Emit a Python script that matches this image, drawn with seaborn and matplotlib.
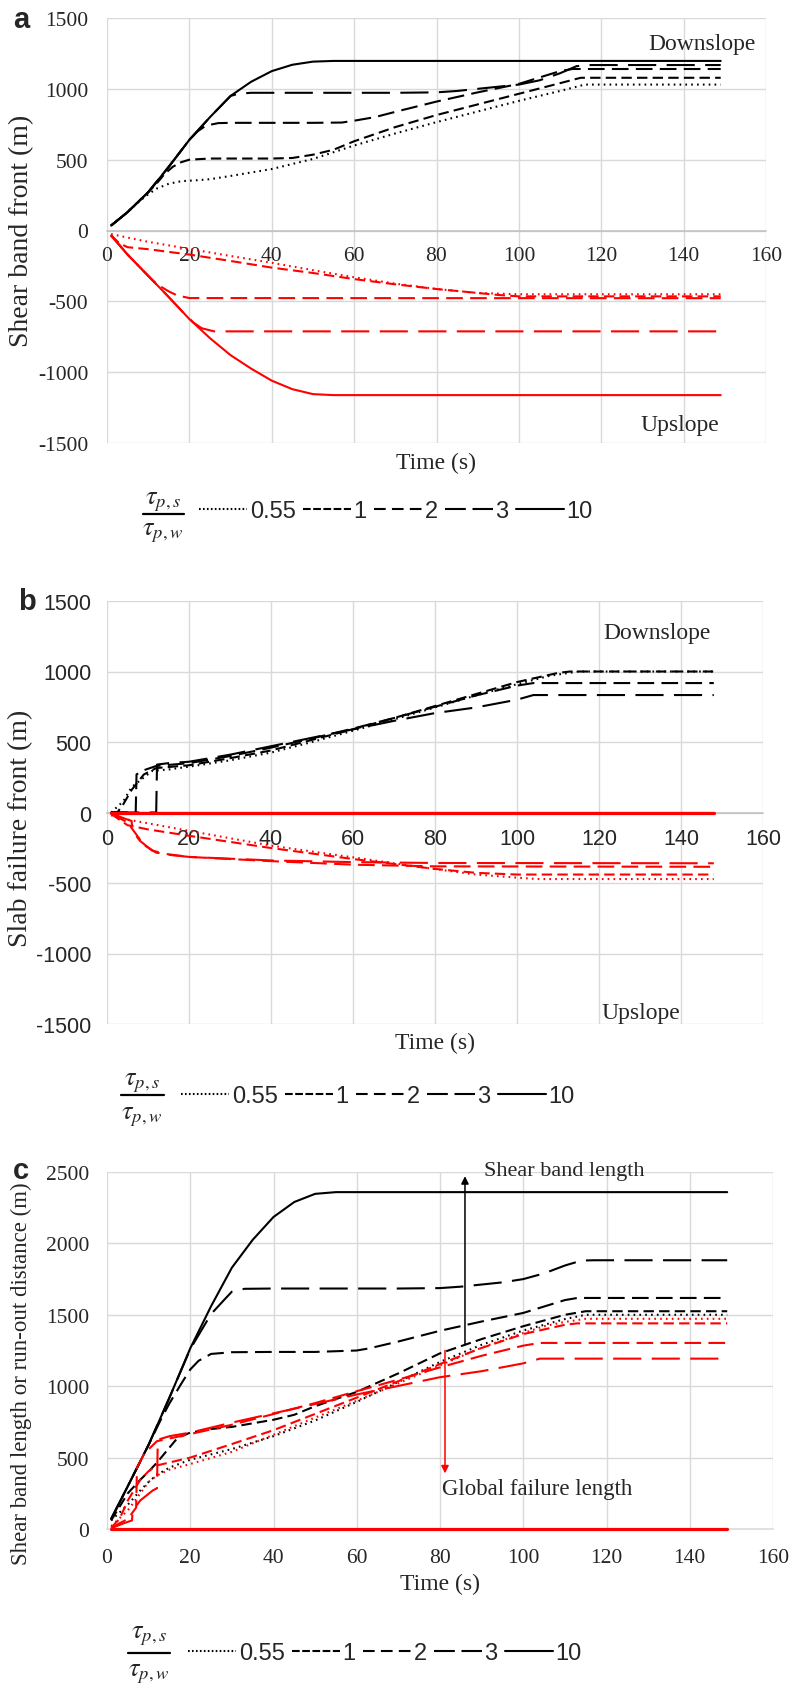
import matplotlib
matplotlib.use("Agg")
import matplotlib.pyplot as plt
import seaborn as sns
import pandas as pd
from matplotlib.lines import Line2D

# ---------------- data ----------------
RATIOS = ["0.55", "1", "2", "3", "10"]
X_TICKS = [0, 20, 40, 60, 80, 100, 120, 140, 160]
A_Y_TICKS = [-1500, -1000, -500, 0, 500, 1000, 1500]
C_Y_TICKS = [0, 500, 1000, 1500, 2000, 2500]

# Panel a: shear band front, downslope (black)
A_T_DOWN_055 = [1, 3, 5, 8, 10, 12, 15, 18, 22, 25, 30, 40, 50, 60, 70, 80, 90, 100, 110, 116, 149]
A_V_DOWN_055 = [35, 80, 130, 210, 255, 295, 330, 348, 355, 362, 385, 434, 505, 600, 685, 765, 840, 915, 985, 1030, 1030]
A_T_DOWN_1 = [1, 5, 10, 12, 14, 16, 18, 20, 25, 30, 40, 45, 50, 55, 60, 70, 80, 90, 100, 110, 115, 149]
A_V_DOWN_1 = [35, 130, 270, 330, 400, 450, 482, 500, 508, 508, 508, 512, 535, 570, 630, 730, 815, 890, 965, 1040, 1078, 1078]
A_T_DOWN_2 = [1, 5, 10, 15, 20, 22, 24, 27, 30, 40, 50, 57, 60, 65, 71, 80, 90, 100, 105, 110, 113, 149]
A_V_DOWN_2 = [35, 130, 270, 450, 640, 700, 740, 758, 760, 760, 760, 762, 775, 800, 845, 910, 975, 1035, 1080, 1125, 1140, 1140]
A_T_DOWN_3 = [1, 5, 10, 15, 20, 25, 30, 32, 35, 50, 60, 70, 80, 85, 90, 95, 100, 105, 110, 114, 117, 149]
A_V_DOWN_3 = [35, 130, 270, 450, 640, 800, 950, 966, 972, 972, 972, 972, 975, 985, 1000, 1015, 1030, 1060, 1110, 1160, 1168, 1168]
A_T_DOWN_10 = [1, 5, 10, 15, 20, 25, 30, 35, 40, 45, 50, 55, 149]
A_V_DOWN_10 = [35, 130, 270, 450, 640, 800, 950, 1050, 1125, 1170, 1192, 1197, 1197]
# Panel a: upslope (red)
A_T_UP_055 = [1, 5, 10, 20, 30, 40, 50, 60, 70, 80, 90, 100, 149]
A_V_UP_055 = [-25, -50, -80, -130, -180, -228, -280, -330, -375, -413, -441, -450, -450]
A_T_UP_1 = [1, 3, 5, 10, 20, 30, 40, 50, 60, 70, 80, 90, 95, 100, 149]
A_V_UP_1 = [-35, -90, -118, -132, -170, -215, -262, -300, -343, -380, -413, -441, -455, -465, -465]
A_T_UP_2 = [1, 5, 10, 11, 13, 15, 17, 20, 149]
A_V_UP_2 = [-35, -170, -320, -350, -395, -430, -458, -477, -478]
A_T_UP_3 = [1, 5, 10, 15, 19, 21, 23, 26, 149]
A_V_UP_3 = [-35, -170, -320, -470, -595, -650, -690, -712, -712]
A_T_UP_10 = [1, 5, 10, 15, 20, 25, 30, 35, 40, 45, 50, 55, 149]
A_V_UP_10 = [-35, -170, -320, -470, -625, -760, -880, -975, -1060, -1120, -1155, -1162, -1162]

# Panel b: slab failure front, downslope (black)
B_T_DOWN_055 = [1, 4, 6, 9.5, 11, 15, 20, 30, 40, 50, 60, 70, 80, 90, 100, 108, 115, 148]
B_V_DOWN_055 = [0, 80, 180, 260, 295, 305, 325, 370, 425, 500, 580, 660, 745, 830, 910, 970, 1000, 1000]
B_T_DOWN_1 = [1, 2.5, 4, 6, 9, 12, 20, 30, 40, 50, 60, 70, 80, 90, 100, 110, 113, 148]
B_V_DOWN_1 = [0, 0, 60, 160, 270, 315, 335, 385, 440, 515, 590, 670, 755, 840, 925, 990, 1000, 1000]
B_T_DOWN_2 = [1, 7, 7.2, 9, 12, 20, 30, 40, 50, 60, 70, 80, 90, 100, 104, 148]
B_V_DOWN_2 = [0, 0, 270, 300, 330, 350, 400, 460, 525, 595, 670, 750, 830, 900, 918, 918]
B_T_DOWN_3 = [1, 12, 12.2, 15, 20, 30, 40, 50, 60, 70, 80, 90, 100, 104, 148]
B_V_DOWN_3 = [0, 0, 340, 350, 360, 410, 470, 530, 590, 650, 705, 745, 800, 833, 833]
B_T_DOWN_10 = [1, 148]
B_V_DOWN_10 = [0, 0]
# Panel b: upslope (red)
B_T_UP_055 = [1, 5, 20, 40, 60, 70, 80, 90, 100, 105, 148]
B_V_UP_055 = [-20, -50, -130, -235, -318, -360, -401, -440, -462, -472, -472]
B_T_UP_1 = [1, 3, 5, 10, 20, 40, 60, 80, 90, 100, 148]
B_V_UP_1 = [-10, -50, -90, -120, -165, -252, -330, -400, -428, -440, -440]
B_T_UP_2 = [1, 3, 5, 7, 9, 12, 20, 40, 60, 80, 148]
B_V_UP_2 = [-5, -40, -70, -150, -230, -285, -315, -345, -370, -382, -385]
B_T_UP_3 = [1, 4, 6, 6.2, 8, 11, 15, 20, 40, 60, 80, 148]
B_V_UP_3 = [-5, -40, -60, -130, -200, -270, -300, -315, -340, -352, -358, -360]
B_T_UP_10 = [1, 148]
B_V_UP_10 = [0, 0]

# Panel c: shear band length (black)
C_T_BAND_055 = [1, 5, 8, 10, 12, 15, 20, 30, 40, 50, 60, 70, 80, 90, 100, 110, 115, 149]
C_V_BAND_055 = [60, 170, 270, 330, 380, 430, 485, 560, 650, 760, 890, 1030, 1170, 1290, 1390, 1470, 1500, 1500]
C_T_BAND_1 = [1, 5, 8, 10, 12, 15, 17, 20, 25, 30, 35, 40, 45, 50, 60, 70, 80, 90, 100, 110, 115, 149]
C_V_BAND_1 = [60, 250, 345, 402, 465, 570, 640, 675, 700, 715, 740, 765, 800, 860, 960, 1090, 1230, 1330, 1420, 1500, 1525, 1525]
C_T_BAND_2 = [1, 5, 10, 13, 15, 18, 20, 22, 25, 30, 40, 50, 60, 63, 70, 80, 90, 100, 105, 110, 113, 149]
C_V_BAND_2 = [70, 300, 590, 770, 880, 1025, 1117, 1178, 1226, 1238, 1240, 1240, 1250, 1265, 1313, 1388, 1453, 1513, 1558, 1603, 1618, 1618]
C_T_BAND_3 = [1, 5, 10, 15, 20, 25, 28, 30, 33, 40, 50, 60, 70, 80, 85, 90, 95, 100, 105, 110, 114, 117, 149]
C_V_BAND_3 = [70, 300, 590, 920, 1260, 1505, 1600, 1662, 1682, 1684, 1684, 1684, 1684, 1687, 1697, 1712, 1727, 1750, 1790, 1845, 1880, 1882, 1882]
C_T_BAND_10 = [1, 5, 10, 15, 20, 25, 30, 35, 40, 45, 50, 55, 149]
C_V_BAND_10 = [70, 300, 590, 920, 1265, 1560, 1830, 2025, 2185, 2290, 2347, 2359, 2359]
# Panel c: global failure length (red)
C_T_GLOB_055 = [1, 5, 8, 10, 12, 15, 20, 30, 40, 50, 60, 70, 80, 90, 100, 105, 110, 115, 149]
C_V_GLOB_055 = [20, 130, 250, 330, 375, 415, 455, 540, 660, 780, 898, 1020, 1146, 1270, 1372, 1420, 1450, 1472, 1472]
C_T_GLOB_1 = [1, 3, 5, 8, 10, 12, 20, 30, 40, 50, 60, 70, 80, 90, 100, 110, 113, 149]
C_V_GLOB_1 = [10, 70, 200, 345, 405, 445, 500, 595, 692, 806, 920, 1035, 1155, 1268, 1365, 1430, 1440, 1440]
C_T_GLOB_2 = [1, 3, 5, 7, 7.2, 9, 12, 20, 30, 40, 50, 60, 70, 80, 90, 100, 104, 149]
C_V_GLOB_2 = [5, 40, 70, 150, 430, 530, 615, 665, 730, 805, 882, 965, 1046, 1132, 1213, 1284, 1303, 1303]
C_T_GLOB_3 = [1, 4, 6, 6.2, 8, 11, 12, 12.2, 15, 20, 30, 40, 50, 60, 70, 80, 90, 100, 104, 149]
C_V_GLOB_3 = [5, 40, 60, 130, 200, 270, 285, 625, 650, 675, 745, 810, 875, 942, 1002, 1063, 1105, 1160, 1193, 1193]
C_T_GLOB_10 = [1, 149]
C_V_GLOB_10 = [0, 0]

# ---------------- styling ----------------
sns.set_style("white")
SERIF = ["Liberation Serif", "DejaVu Serif"]
SANS = ["Liberation Sans", "DejaVu Sans"]
plt.rcParams["font.family"] = SERIF
plt.rcParams["mathtext.fontset"] = "stix"
plt.rcParams["axes.unicode_minus"] = False

BLACK = "#000000"
RED = "#ff0000"
GRID = "#d9d9d9"
ZERO = "#bfbfbf"
PLOT_DASH = {"0.55": (0.8, 2.0), "1": (5, 2.5), "2": (8, 3.5), "3": (13.5, 5), "10": None}
LEG_DASH = {"0.55": (0.8, 1.1), "1": (3.7, 1.2), "2": (5.6, 3.0), "3": (10.0, 3.2), "10": None}
LW = 1.5

W, H = 801, 1699
fig = plt.figure(figsize=(W / 100, H / 100), dpi=100)


def fx(px):
    return px / W


def fy(py):
    return 1 - py / H


def add_axes(left, right, top, bottom):
    return fig.add_axes([fx(left), fy(bottom), (right - left) / W, (bottom - top) / H])


def draw(ax, t, v, ratio, color, lw=LW, clip=True):
    df = pd.DataFrame({"t": t, "v": v})
    ls = "-" if PLOT_DASH[ratio] is None else (0, PLOT_DASH[ratio])
    sns.lineplot(data=df, x="t", y="v", ax=ax, color=color, linewidth=lw,
                 linestyle=ls, estimator=None, sort=False, legend=False,
                 zorder=3, clip_on=clip)


def style_axes(ax, yticks, ylim, tick_family, ytick_pad, xtick_pad, zero_spine):
    ax.set_xlim(0, 160)
    ax.set_ylim(*ylim)
    ax.set_xticks(X_TICKS)
    ax.set_yticks(yticks)
    ax.grid(True, color=GRID, linewidth=1)
    ax.set_axisbelow(True)
    for s in ax.spines.values():
        s.set_visible(False)
    sp = ax.spines["bottom"]
    sp.set_visible(True)
    sp.set_color(ZERO)
    sp.set_linewidth(1.1)
    sp.set_zorder(1.5)
    if zero_spine:
        sp.set_position(("data", 0))
    ax.tick_params(axis="both", length=0)
    ax.tick_params(axis="y", pad=ytick_pad)
    ax.tick_params(axis="x", pad=xtick_pad)
    for lab in ax.get_xticklabels() + ax.get_yticklabels():
        lab.set_family(tick_family)
        lab.set_fontsize(15.5)


def labels(ax, ylabel, ylab_fs, ylab_px, ylab_cy, left, right, top, bottom, time_py):
    ax.set_xlabel("Time (s)", fontsize=17)
    ax.xaxis.set_label_coords(0.5, (bottom - time_py) / (bottom - top))
    ax.xaxis.label.set_va("center")
    ax.set_ylabel(ylabel, fontsize=ylab_fs)
    ax.yaxis.set_label_coords((ylab_px - left) / (right - left), (bottom - ylab_cy) / (bottom - top))
    ax.yaxis.label.set_va("center")


def legend(frac_x, frac_bar_y, num_y, den_y, bar_w, leg_left, leg_y):
    fig.text(fx(frac_x), fy(num_y), r"$\tau_{p,s}$", fontsize=19, ha="center", va="center")
    fig.text(fx(frac_x), fy(den_y), r"$\tau_{p,w}$", fontsize=19, ha="center", va="center")
    fig.add_artist(Line2D([fx(frac_x - bar_w / 2), fx(frac_x + bar_w / 2)],
                          [fy(frac_bar_y), fy(frac_bar_y)], color=BLACK, lw=1.6,
                          transform=fig.transFigure))
    handles = []
    for r in RATIOS:
        ls = "-" if LEG_DASH[r] is None else (0, LEG_DASH[r])
        handles.append(Line2D([], [], color=BLACK, lw=LW, linestyle=ls))
    fig.legend(handles, RATIOS, loc="center left", bbox_to_anchor=(fx(leg_left), fy(leg_y)),
               ncol=5, frameon=False, handlelength=2.05, handletextpad=0.1,
               columnspacing=0.3, borderpad=0, borderaxespad=0,
               prop={"family": SANS, "size": 17})


# ---------------- panel a ----------------
axa = add_axes(107, 766, 19, 444)
for t, v, r in [(A_T_DOWN_055, A_V_DOWN_055, "0.55"), (A_T_DOWN_1, A_V_DOWN_1, "1"),
                (A_T_DOWN_2, A_V_DOWN_2, "2"), (A_T_DOWN_3, A_V_DOWN_3, "3"),
                (A_T_DOWN_10, A_V_DOWN_10, "10")]:
    draw(axa, t, v, r, BLACK)
for t, v, r in [(A_T_UP_055, A_V_UP_055, "0.55"), (A_T_UP_1, A_V_UP_1, "1"),
                (A_T_UP_2, A_V_UP_2, "2"), (A_T_UP_3, A_V_UP_3, "3"),
                (A_T_UP_10, A_V_UP_10, "10")]:
    draw(axa, t, v, r, RED)
style_axes(axa, A_Y_TICKS, (-1500, 1500), SERIF, 13.5, 11, True)
labels(axa, "Shear band front (m)", 20, 22, 231, 107, 766, 19, 444, 463)
axa.text(157.5, 1317, "Downslope", fontsize=17, ha="right", va="center")
axa.text(129.5, -1366, "Upslope", fontsize=17, ha="left", va="center")
fig.text(fx(21), fy(20), "a", fontsize=21, fontweight="bold", family=SANS, ha="center", va="center")
legend(163, 515, 502, 533, 41, 199, 512)

# ---------------- panel b ----------------
axb = add_axes(107, 763, 602, 1025)
for t, v, r in [(B_T_DOWN_055, B_V_DOWN_055, "0.55"), (B_T_DOWN_1, B_V_DOWN_1, "1"),
                (B_T_DOWN_2, B_V_DOWN_2, "2"), (B_T_DOWN_3, B_V_DOWN_3, "3"),
                (B_T_DOWN_10, B_V_DOWN_10, "10")]:
    draw(axb, t, v, r, BLACK)
for t, v, r in [(B_T_UP_055, B_V_UP_055, "0.55"), (B_T_UP_1, B_V_UP_1, "1"),
                (B_T_UP_2, B_V_UP_2, "2"), (B_T_UP_3, B_V_UP_3, "3")]:
    draw(axb, t, v, r, RED)
draw(axb, B_T_UP_10, B_V_UP_10, "10", RED, lw=2.3)
style_axes(axb, A_Y_TICKS, (-1500, 1500), SANS, 11, 11, True)
labels(axb, "Slab failure front (m)", 20, 21, 828, 107, 763, 602, 1025, 1043)
axb.text(121, 1280, "Downslope", fontsize=17, ha="left", va="center")
axb.text(120.7, -1415, "Upslope", fontsize=17, ha="left", va="center")
fig.text(fx(27), fy(602), "b", fontsize=21, fontweight="bold", family=SANS, ha="center", va="center")
legend(142, 1096, 1083, 1117, 43, 181, 1097)

# ---------------- panel c ----------------
axc = add_axes(107, 773, 1173, 1530)
for t, v, r in [(C_T_BAND_055, C_V_BAND_055, "0.55"), (C_T_BAND_1, C_V_BAND_1, "1"),
                (C_T_BAND_2, C_V_BAND_2, "2"), (C_T_BAND_3, C_V_BAND_3, "3"),
                (C_T_BAND_10, C_V_BAND_10, "10")]:
    draw(axc, t, v, r, BLACK)
for t, v, r in [(C_T_GLOB_055, C_V_GLOB_055, "0.55"), (C_T_GLOB_1, C_V_GLOB_1, "1"),
                (C_T_GLOB_2, C_V_GLOB_2, "2"), (C_T_GLOB_3, C_V_GLOB_3, "3")]:
    draw(axc, t, v, r, RED)
draw(axc, C_T_GLOB_10, C_V_GLOB_10, "10", RED, lw=2.3, clip=False)
style_axes(axc, C_Y_TICKS, (0, 2500), SERIF, 13, 14, False)
axc.spines["bottom"].set_color(GRID)
labels(axc, "Shear band length or run-out distance (m)", 16.5, 21, 1374, 107, 773, 1173, 1530, 1584)
axc.annotate("", xy=(86, 2490), xytext=(86, 1270),
             arrowprops=dict(arrowstyle="-|>", color=BLACK, lw=1.1, mutation_scale=11))
axc.annotate("", xy=(81.2, 370), xytext=(81.2, 1270),
             arrowprops=dict(arrowstyle="-|>", color=RED, lw=1.1, mutation_scale=11))
axc.text(90.5, 2510, "Shear band length", fontsize=16, ha="left", va="center", clip_on=False)
axc.text(80.5, 287, "Global failure length", fontsize=16.5, ha="left", va="center")
fig.text(fx(21), fy(1171), "c", fontsize=21, fontweight="bold", family=SANS, ha="center", va="center")
legend(149, 1654, 1636, 1674, 42, 188, 1654)

fig.savefig("out.png", dpi=100)
